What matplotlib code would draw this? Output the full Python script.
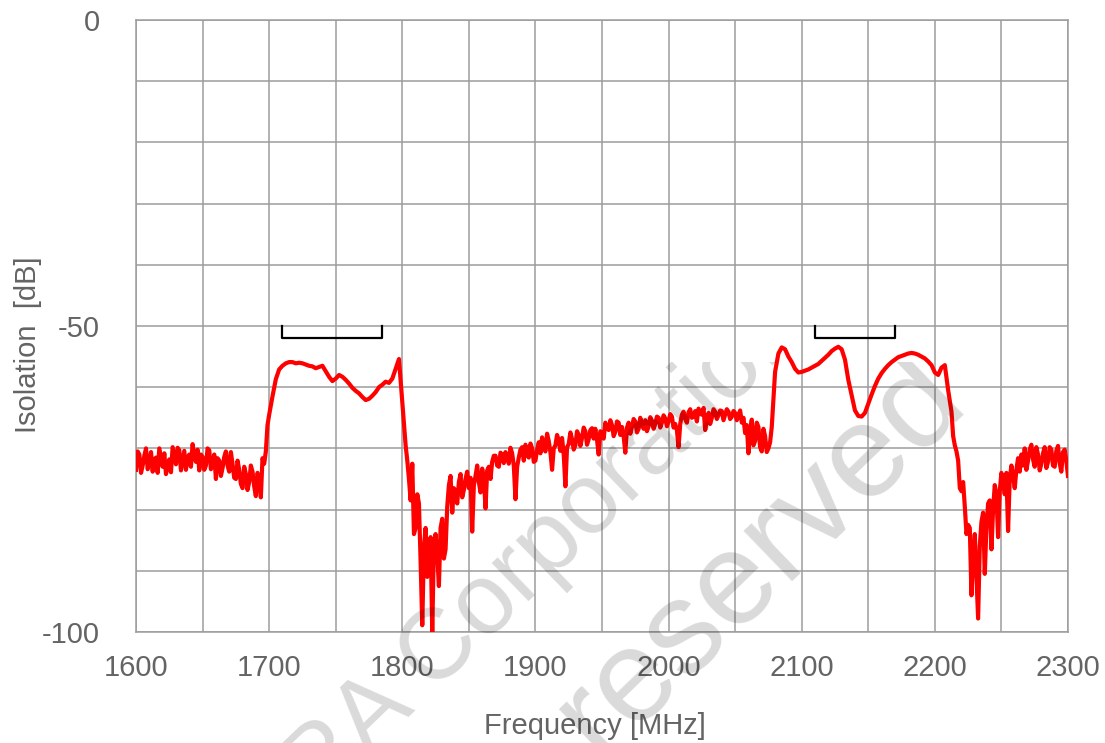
import numpy as np
import matplotlib
matplotlib.use("Agg")
import matplotlib.pyplot as plt
from matplotlib.ticker import MultipleLocator
from matplotlib.transforms import Bbox, TransformedBbox

# Isolation trace [dB], every 2.5 MHz, one list per 100 MHz
iso_1600 = [-73.5, -71.0, -72.8, -70.0, -72.5, -73.8, -71.5, -70.0, -73.0, -74.2,
            -71.8, -69.8, -72.6, -70.3, -72.0, -73.5, -71.0, -69.3, -72.2, -73.6,
            -71.4, -72.8, -70.3, -72.5, -75.0, -72.0, -73.2, -70.5, -73.8, -72.6,
            -75.0, -73.5, -76.5, -74.2, -75.5, -73.8, -77.8, -75.0, -71.6, -70.5]
iso_1700 = [-64.5, -61.5, -58.7, -57.1, -56.5, -56.1, -55.9, -55.9, -56.1, -56.0,
            -56.1, -56.3, -56.5, -56.6, -56.9, -56.7, -56.5, -57.4, -58.3, -59.0,
            -58.6, -58.0, -58.3, -58.8, -59.4, -60.1, -60.6, -61.0, -61.6, -62.1,
            -61.9, -61.4, -60.8, -60.0, -59.6, -59.1, -59.3, -58.6, -57.0, -55.4]
iso_1800 = [-62.5, -69.5, -75.0, -72.5, -83.0, -79.0, -98.9, -83.0, -88.0, -100.0,
            -84.0, -92.5, -81.5, -86.5, -76.0, -80.5, -77.0, -75.5, -78.0, -75.0,
            -76.5, -83.6, -74.5, -75.5, -73.3, -79.8, -73.0, -72.2, -71.2, -73.0,
            -71.0, -70.6, -72.5, -70.8, -78.3, -71.5, -69.8, -69.4, -71.5, -70.0]
iso_1900 = [-72.0, -69.0, -68.2, -70.5, -68.8, -73.5, -69.5, -68.7, -68.3, -76.2,
            -69.3, -68.5, -69.5, -67.8, -68.3, -67.2, -68.5, -66.7, -66.8, -71.0,
            -67.5, -65.8, -67.0, -66.2, -67.3, -65.8, -66.5, -70.7, -65.8, -66.5,
            -65.6, -66.8, -66.0, -65.4, -66.4, -65.5, -66.0, -65.0, -65.8, -65.1]
iso_2000 = [-65.6, -64.8, -66.0, -69.8, -64.5, -65.2, -64.1, -65.0, -63.9, -63.5,
            -64.5, -67.0, -64.2, -65.0, -64.0, -64.6, -63.9, -64.5, -64.0, -64.8,
            -64.2, -64.6, -65.8, -67.5, -70.8, -65.3, -68.8, -66.5, -70.5, -68.0,
            -70.0, -66.5, -57.5, -54.5, -53.5, -53.8, -55.0, -55.9, -57.0, -57.6]
iso_2100 = [-57.5, -57.3, -57.1, -56.8, -56.5, -56.2, -55.7, -55.2, -54.7, -54.1,
            -53.7, -53.4, -53.8, -55.5, -58.8, -61.3, -63.8, -64.7, -64.8, -64.2,
            -62.7, -61.2, -59.8, -58.6, -57.7, -57.0, -56.4, -55.9, -55.5, -55.1,
            -54.9, -54.7, -54.5, -54.4, -54.5, -54.7, -55.0, -55.3, -55.8, -56.4]
iso_2200 = [-57.6, -58.0, -56.8, -56.4, -60.5, -64.0, -69.5, -72.0, -77.0, -79.5,
            -82.5, -94.0, -84.0, -97.8, -82.0, -90.5, -79.0, -86.5, -76.0, -84.5,
            -74.0, -77.5, -83.5, -72.8, -76.5, -71.6, -71.0, -70.0, -72.0, -69.4,
            -73.0, -71.0, -72.5, -69.8, -72.2, -70.2, -73.0, -69.6, -73.8, -70.2,
            -74.5]

# extra readings half way between the 2.5 MHz points in the noisy stretches
mid_1600 = [-70.5, -74.0, -71.2, -73.4, -70.6, -71.8, -74.0, -71.5, -70.8, -72.9,
            -73.9, -71.2, -69.9, -73.6, -70.4, -71.6, -73.0, -71.2, -70.2, -71.0,
            -73.5, -70.0, -73.4, -71.0, -71.6, -74.5, -71.4, -72.8, -70.6, -74.8,
            -72.0, -75.8, -73.0, -76.8, -72.8, -76.2, -74.0, -78.0, -72.5, -66.2]
mid_1800 = [-66.0, -72.0, -78.5, -84.0, -77.5, -88.5, -86.0, -91.0, -84.5, -85.5,
            -87.5, -83.0, -88.0, -79.5, -74.5, -76.5, -79.0, -74.2, -76.8, -73.8,
            -74.8, -76.0, -72.8, -77.2, -74.8, -73.6, -75.0, -71.2, -72.8, -70.7,
            -72.4, -71.4, -69.9, -72.8, -73.0, -70.2, -72.0, -71.0, -69.2, -72.2]
mid_1900 = [-70.2, -70.8, -69.6, -67.6, -70.6, -70.0, -67.8, -70.4, -71.0, -69.8,
            -67.4, -70.2, -67.2, -69.6, -66.6, -69.4, -67.0, -68.4, -68.6, -67.2,
            -68.4, -66.6, -65.4, -68.0, -65.6, -67.8, -68.0, -66.6, -67.6, -65.2,
            -67.4, -65.0, -66.8, -67.2, -64.9, -66.8, -64.8, -66.6, -64.6, -66.4]
mid_2000 = [-64.4, -66.6, -67.0, -66.0, -64.0, -65.8, -63.6, -64.8, -65.6, -64.2,
            -63.4, -65.4, -66.0, -63.6, -65.2, -63.8, -65.4, -63.6, -65.2, -63.9,
            -65.4, -63.8, -65.0, -66.2, -67.0, -69.5, -65.8, -69.8, -66.8, -70.6,
            -69.0, -62.0]
mid_2200 = [-68.0, -70.5, -76.5, -75.5, -84.0, -83.0, -88.0, -91.0, -86.0, -80.5,
            -83.0, -78.5, -80.0, -77.5, -77.0, -75.5, -74.0, -75.0, -74.5, -73.5,
            -73.8, -72.8, -73.5, -70.2, -71.8, -69.8, -73.6, -70.8, -73.2, -69.8,
            -72.8, -70.4, -72.4, -70.6, -72.0]
mid_starts = [1601.25, 1801.25, 1901.25, 2001.25, 2213.75]

main = iso_1600 + iso_1700 + iso_1800 + iso_1900 + iso_2000 + iso_2100 + iso_2200
f_all = [1600 + 2.5 * np.arange(len(main))]
v_all = [np.array(main)]
for start, vals in zip(mid_starts, [mid_1600, mid_1800, mid_1900, mid_2000, mid_2200]):
    f_all.append(start + 2.5 * np.arange(len(vals)))
    v_all.append(np.array(vals))
freq = np.concatenate(f_all)
isolation = np.concatenate(v_all)
order = np.argsort(freq)
freq, isolation = freq[order], isolation[order]

# band markers (MHz)
tx_band = (1710, 1785)
rx_band = (2110, 2170)
marker_top = -50
marker_low = -52

x_ticks = [1600, 1700, 1800, 1900, 2000, 2100, 2200, 2300]
y_ticks = [-100, -50, 0]

text_col = "#646464"
grid_col = "#9c9c9c"
plt.rcParams["font.family"] = ["Liberation Sans", "DejaVu Sans"]
plt.rcParams["axes.unicode_minus"] = False

fig = plt.figure(figsize=(11.05, 7.43), dpi=100)
ax = fig.add_axes([0.1231, 0.1494, 0.8434, 0.8237])

ax.plot(freq, isolation, color="#ff0000", lw=3.0, zorder=3)
for lo, hi in (tx_band, rx_band):
    ax.plot([lo, lo, hi, hi], [marker_top, marker_low, marker_low, marker_top],
            color="black", lw=1.6, zorder=4)

ax.set_xlim(1600, 2300)
ax.set_ylim(-100, 0)
ax.set_xticks(x_ticks)
ax.set_yticks(y_ticks)
ax.xaxis.set_minor_locator(MultipleLocator(50))
ax.yaxis.set_minor_locator(MultipleLocator(10))
ax.grid(True, which="both", color=grid_col, lw=1.1, zorder=0)
ax.set_axisbelow(True)
ax.tick_params(which="both", length=0, labelsize=21, labelcolor=text_col)
ax.tick_params(axis="x", pad=16)
ax.tick_params(axis="y", pad=26)
for sp in ax.spines.values():
    sp.set_color(grid_col)
    sp.set_linewidth(1.1)

fig.text(595 / 1105, 1 - 726 / 743, "Frequency [MHz]", ha="center", va="center",
         fontsize=21, color=text_col)
fig.text(28 / 1105, 1 - 345 / 743, "Isolation  [dB]", ha="center", va="center",
         rotation=90, fontsize=21, color=text_col)

# faint watermark, only visible in the lower part of the image
clip = TransformedBbox(Bbox.from_extents(0, 0, 1, 381 / 743), fig.transFigure)
for s, px, py, size in (("\u00a9KYOCERA Corporation", 808, 412, 72),
                        ("All rights reserved", 971, 334, 95)):
    t = fig.text(px / 1105, py / 743, s, ha="right", va="baseline", rotation=44,
                 rotation_mode="anchor", fontsize=size, color="black", alpha=0.15,
                 zorder=10)
    t.set_clip_box(clip)
    t.set_clip_on(True)

fig.savefig("out.png", dpi=100)
